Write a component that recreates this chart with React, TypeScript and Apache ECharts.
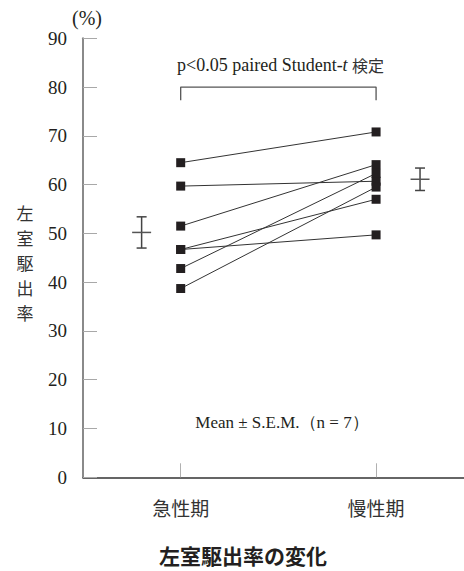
import React, { useEffect, useRef } from "react";
import * as echarts from "echarts";

const categories = ["急性期", "慢性期"];
const categoryX = [1, 2];
const acute = [64.5, 59.7, 51.5, 46.7, 46.7, 42.8, 38.7];
const chronic = [70.8, 60.7, 64.1, 57.0, 49.7, 62.3, 59.5];
const errorBarX = [0.8, 2.225];
const meanValues = [50.2, 61.1];
const semValues = [3.2, 2.3];
const bracket = [
  [1, 77.3],
  [1, 80],
  [2, 80],
  [2, 77.3],
];
const yMin = 0;
const yMax = 90;
const yInterval = 10;
const yAxisNameChars = ["左", "室", "駆", "出", "率"];

const SERIF = "Liberation Serif";
const CJK = "Noto Sans CJK JP";

export default function App() {
  const ref = useRef<HTMLDivElement>(null);

  useEffect(() => {
    if (!ref.current) return;
    const chart = echarts.init(ref.current, undefined, { renderer: "svg" });

    const pairSeries = acute.map((a, i) => ({
      type: "line",
      data: [
        [categoryX[0], a],
        [categoryX[1], chronic[i]],
      ],
      symbol: "rect",
      symbolSize: 9,
      itemStyle: { color: "#231f20" },
      lineStyle: { color: "#333", width: 1 },
      silent: true,
      z: 3,
    }));

    const errData = errorBarX.map((x, i) => [x, meanValues[i], semValues[i]]);

    const nameTexts = yAxisNameChars.map((c, i) => ({
      type: "text",
      x: 25,
      y: 212 + i * 25,
      style: {
        text: c,
        fontSize: 17,
        fontFamily: CJK,
        fill: "#333",
        align: "center",
        verticalAlign: "middle",
      },
    }));

    const option: any = {
      animation: false,
      grid: { left: 83, right: 0, top: 38.3, bottom: 93.7 },
      xAxis: {
        type: "value",
        min: 0.5,
        max: 2.45,
        axisLine: { show: true, lineStyle: { color: "#333", width: 1.5 } },
        axisTick: {
          show: true,
          inside: true,
          length: 14,
          customValues: categoryX,
          lineStyle: { color: "#b0b0b0", width: 1 },
        },
        axisLabel: {
          customValues: categoryX,
          formatter: (v: number) => categories[Math.round(v) - 1] ?? "",
          margin: 21,
          fontSize: 19,
          fontFamily: CJK,
          color: "#333",
        },
        splitLine: { show: false },
      },
      yAxis: {
        type: "value",
        min: yMin,
        max: yMax,
        interval: yInterval,
        axisLine: { show: true, lineStyle: { color: "#8a8a8a", width: 2 } },
        axisTick: {
          show: true,
          inside: true,
          length: 14,
          lineStyle: { color: "#a8a8a8", width: 1 },
        },
        axisLabel: {
          margin: 16,
          fontSize: 19,
          fontFamily: SERIF,
          color: "#231f20",
        },
        splitLine: { show: false },
      },
      series: [
        ...pairSeries,
        {
          type: "line",
          data: bracket,
          symbol: "none",
          lineStyle: { color: "#555", width: 1.3 },
          silent: true,
          z: 2,
        },
        {
          type: "custom",
          data: errData,
          encode: { x: 0, y: 1 },
          silent: true,
          z: 4,
          renderItem: (params: any, api: any) => {
            const x = api.value(0);
            const m = api.value(1);
            const s = api.value(2);
            const top = api.coord([x, m + s]);
            const bot = api.coord([x, m - s]);
            const mid = api.coord([x, m]);
            const st = { stroke: "#444", lineWidth: 1.5 };
            const stMean = { stroke: "#555", lineWidth: 1.5 };
            return {
              type: "group",
              children: [
                { type: "line", shape: { x1: top[0], y1: top[1], x2: bot[0], y2: bot[1] }, style: st },
                { type: "line", shape: { x1: top[0] - 5, y1: top[1], x2: top[0] + 5, y2: top[1] }, style: st },
                { type: "line", shape: { x1: bot[0] - 5, y1: bot[1], x2: bot[0] + 5, y2: bot[1] }, style: st },
                { type: "line", shape: { x1: mid[0] - 9.5, y1: mid[1], x2: mid[0] + 9.5, y2: mid[1] }, style: stMean },
              ],
            };
          },
        },
      ],
      graphic: [
        {
          type: "text",
          x: 72,
          y: 18,
          style: {
            text: "(%)",
            fontSize: 20,
            fontFamily: SERIF,
            fill: "#231f20",
            verticalAlign: "middle",
          },
        },
        ...nameTexts,
        {
          type: "text",
          x: 177,
          y: 65,
          style: {
            text: "p<0.05 paired Student-{i|t} {j|検定}",
            fontSize: 18,
            fontFamily: SERIF,
            fill: "#231f20",
            verticalAlign: "middle",
            rich: {
              i: { fontFamily: SERIF, fontSize: 18, fontStyle: "italic", fill: "#231f20" },
              j: { fontFamily: CJK, fontSize: 16, fill: "#333" },
            },
          },
        },
        {
          type: "text",
          x: 282,
          y: 422,
          style: {
            text: "Mean ± S.E.M.（n = 7）",
            fontSize: 17,
            fontFamily: SERIF,
            fill: "#231f20",
            align: "center",
            verticalAlign: "middle",
          },
        },
        {
          type: "text",
          x: 243,
          y: 555,
          style: {
            text: "左室駆出率の変化",
            fontSize: 21,
            fontWeight: "bold",
            fontFamily: CJK,
            fill: "#231f20",
            align: "center",
            verticalAlign: "middle",
          },
        },
      ],
    };

    chart.setOption(option);
    return () => chart.dispose();
  }, []);

  return (
    <div
      ref={ref}
      style={{ position: "fixed", left: 0, top: 0, width: 464, height: 571, background: "#fff" }}
    />
  );
}
